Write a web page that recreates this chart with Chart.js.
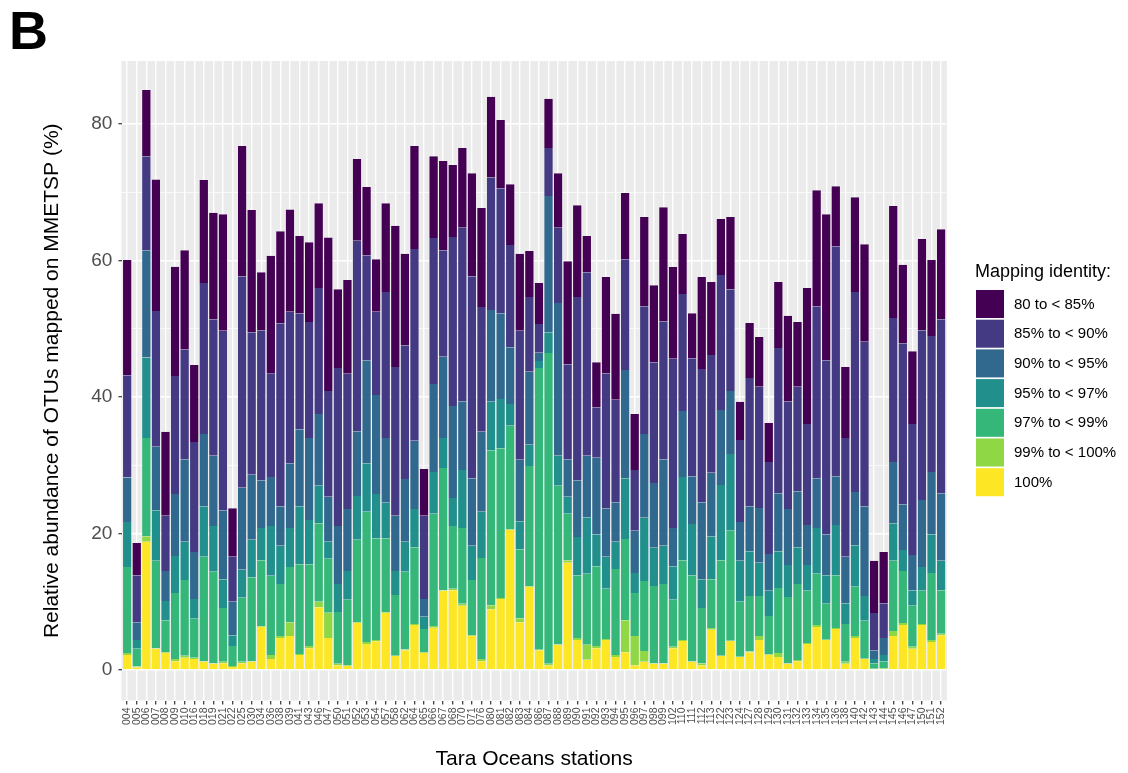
<!DOCTYPE html>
<html>
<head>
<meta charset="utf-8">
<script src="https://cdn.jsdelivr.net/npm/chart.js@4.4.1/dist/chart.umd.min.js"></script>
<style>
  body { margin: 0; background: #ffffff; }
  #wrap { width: 1128px; height: 773px; position: relative; }
</style>
</head>
<body>
<div id="wrap"><canvas id="canvas1"></canvas></div>
<script>
// Tara Oceans stations (x axis)
const stations = ["004","005","006","007","008","009","010","016","018","019",
    "021","022","025","030","034","036","038","039","041","043",
    "046","047","050","051","052","053","054","057","058","062",
    "064","065","066","067","068","070","071","076","080","081",
    "082","083","084","086","087","088","089","090","091","092",
    "093","094","095","096","097","098","099","102","110","111",
    "112","113","122","123","124","127","128","129","130","131",
    "132","133","134","135","136","138","140","142","143","144",
    "145","146","147","150","151","152"]

// relative abundance (%) per mapping identity class
const id100 = [2.2,0.4,18.8,3.1,2.5,1.3,1.8,1.6,1.2,0.9,
    1.0,0.45,1.0,1.2,6.3,1.6,4.7,5.0,2.2,3.2,
    9.2,4.7,0.7,0.6,6.9,3.8,4.2,8.4,2.05,2.9,
    6.6,2.5,6.2,11.6,11.7,9.4,5.0,1.3,8.9,10.4,
    20.5,7.0,12.2,2.9,0.7,3.7,15.7,4.4,1.5,3.2,
    4.4,1.9,2.6,0.7,1.2,0.9,0.9,3.2,4.25,1.2,
    0.7,5.9,2.05,4.25,1.9,2.6,4.4,2.2,1.9,0.9,
    1.3,3.8,6.3,4.4,6.0,0.9,4.7,1.6,0.15,0,
    5.0,6.6,3.1,6.6,4.1,5.1]
const id99 = [0.3,0.1,0.8,0.1,0.1,0.3,0.3,0.2,0.1,0.1,
    0.2,0.15,0.2,0.1,0.1,0.6,0.3,2.0,0.15,0.3,
    0.8,3.7,0.2,0.1,0.1,0.3,0.2,0.1,0.05,0.1,
    0.15,0.1,0.25,0.1,0.2,0.3,0.1,0.3,0.6,0.15,
    0.1,0.6,0.1,0.05,0.2,0.05,0.4,0.3,2.2,0.3,
    0.15,0.3,4.7,4.3,1.6,0.1,0.1,0.2,0.15,0.05,
    0.3,0.25,0.05,0.05,0.05,0.1,0.6,0.1,0.6,0.05,
    0.15,0.15,0.3,0.05,0.15,0.3,0.3,0.05,0.05,0.25,
    0.7,0.3,0.3,0.15,0.3,0.2]
const id97 = [12.6,2.6,14.4,12.8,4.7,9.7,11.1,5.7,15.3,13.4,
    7.9,2.9,9.4,12.3,9.7,11.6,7.6,8.1,13.15,12.0,
    11.5,7.9,7.6,9.6,12.1,19.1,14.9,10.8,8.9,11.4,
    11.25,3.4,16.45,17.9,9.2,11.1,8.1,14.8,22.7,21.95,
    15.2,10.1,17.6,41.3,45.55,23.25,6.8,9.2,10.4,11.7,
    7.35,12.6,11.9,6.3,10.25,11.3,11.6,6.9,11.7,12.65,
    8.1,7.15,14.0,16.1,8.05,8.15,5.85,5.6,9.5,9.75,
    11.15,7.65,7.5,5.25,7.75,5.55,7.2,5.55,0.8,1.05,
    10.3,7.6,6.0,4.85,9.8,6.4]
const id95 = [6.6,1.3,11.8,7.4,2.8,5.4,5.6,2.9,7.4,6.7,
    4.2,1.6,4.1,5.5,4.7,7.3,5.6,5.7,8.5,6.5,
    5.5,2.5,4.1,4.2,6.4,7.1,6.5,5.2,3.5,4.4,
    5.6,1.8,6.1,4.4,4.1,8.5,5.0,6.8,7.1,7.2,
    3.2,4.1,3.1,1.05,3.05,4.4,2.5,5.6,8.3,4.7,
    4.7,4.0,8.9,2.9,9.25,5.6,5.6,4.9,12.2,7.5,
    4.2,6.3,11.0,11.25,6.0,6.55,4.85,3.7,5.4,4.7,
    5.4,3.8,6.7,4.2,7.35,3.05,6.1,3.65,0.6,0.9,
    5.5,3.1,2.3,3.5,5.7,4.3]
const id90 = [6.5,2.6,15.7,9.3,4.4,9.1,12.1,6.9,10.6,10.3,
    10.1,4.9,12.0,9.5,7.0,7.2,5.8,9.5,11.3,12.0,
    10.5,6.6,8.5,9.1,9.5,15.1,14.5,9.5,8.1,9.2,
    10.0,2.6,12.9,11.9,13.5,10.1,9.9,11.7,13.45,12.6,
    8.3,9.0,10.7,1.2,19.95,22.4,5.5,8.3,9.0,11.2,
    7.1,5.8,15.85,6.2,12.3,9.5,12.7,5.6,9.65,7.0,
    11.3,9.3,11.0,9.25,5.7,6.6,8.05,5.4,8.5,8.2,
    8.2,5.85,7.3,6.0,7.15,6.8,7.8,13.15,1.3,2.5,
    9.0,6.7,5.15,9.8,9.1,9.9]
const id85 = [15.0,6.9,13.8,19.9,8.1,17.3,16.1,16.1,22.1,20.0,
    26.3,6.6,31.0,20.9,22.0,15.1,26.8,22.2,17.0,17.0,
    18.5,15.5,23.15,19.8,27.9,15.4,12.2,21.4,21.8,19.6,
    28.1,12.2,21.4,15.6,24.75,25.4,29.6,18.3,19.45,18.3,
    15.0,18.9,10.95,4.2,7.05,11.0,13.9,26.85,26.9,7.4,
    19.8,15.0,16.25,8.9,18.7,17.7,20.2,24.8,17.15,17.3,
    19.5,17.25,19.8,14.9,12.0,18.8,17.75,13.5,21.3,15.8,
    15.3,14.8,25.2,25.5,33.7,17.4,29.3,24.1,5.45,5.1,
    21.1,23.6,19.2,24.9,19.95,25.5]
const id80 = [16.9,4.7,9.7,19.3,12.3,16.0,14.5,11.3,15.1,15.6,
    17.1,7.1,19.1,17.9,8.5,17.3,13.5,15.0,11.3,11.7,
    12.4,22.5,11.55,13.75,12.0,10.0,7.7,13.0,20.7,13.4,
    15.1,6.85,12.0,13.1,10.55,11.7,15.1,14.5,11.8,10.0,
    8.9,11.3,6.75,6.0,7.2,8.0,15.1,13.45,5.3,6.6,
    14.1,12.6,9.7,8.2,13.1,11.3,16.7,13.45,8.8,6.6,
    13.5,10.7,8.2,10.6,5.6,8.05,7.3,5.7,9.65,12.5,
    9.5,19.95,17.0,21.4,8.8,10.4,13.9,14.3,7.65,7.5,
    16.4,11.5,10.65,13.35,11.15,13.2]

// stacking order bottom -> top
const seriesData = [id100, id99, id97, id95, id90, id85, id80]
const seriesNames = ["100%", "99% to < 100%", "97% to < 99%", "95% to < 97%",
    "90% to < 95%", "85% to < 90%", "80 to < 85%"]
const seriesColors = ["#FDE725", "#8FD744", "#35B779", "#21908C",
    "#31688E", "#443A83", "#440154"]

const yMajor = [0, 20, 40, 60, 80]
const yMinor = [10, 30, 50, 70]

Chart.defaults.font.family = "'Liberation Sans', Arial, Helvetica, sans-serif"

// grey ggplot panel behind the bars
const panelBackground = {
    id: "panelBackground",
    beforeDraw: (chart) => {
        const a = chart.chartArea
        const band = (a.right - a.left) / stations.length
        const c = chart.ctx
        c.save()
        c.fillStyle = "#EBEBEB"
        c.fillRect(a.left - 0.1 * band, a.top, a.right - a.left + 0.2 * band, a.bottom - a.top)
        c.restore()
    }
}

// panel tag and the legend box on the right
const extras = {
    id: "extras",
    afterDraw: (chart) => {
        const c = chart.ctx
        c.save()
        c.fillStyle = "#000"
        c.font = "bold 54px 'Liberation Sans', Arial, sans-serif"
        c.textBaseline = "alphabetic"
        c.fillText("B", 9, 49)

        c.font = "18px 'Liberation Sans', Arial, sans-serif"
        c.fillStyle = "#000"
        c.fillText("Mapping identity:", 975, 277)

        const sets = chart.data.datasets.slice().reverse()
        c.font = "15px 'Liberation Sans', Arial, sans-serif"
        c.textBaseline = "middle"
        sets.forEach((ds, k) => {
            const top = 290 + k * 29.7
            c.fillStyle = ds.backgroundColor
            c.fillRect(976, top, 28, 28)
            c.fillStyle = "#000"
            c.fillText(ds.label, 1014, top + 14.5)
        })
        c.restore()
    }
}

const ctx = document.querySelector("#canvas1")
const myBarChart = new Chart(ctx, {
    type: "bar",
    data: {
        labels: stations,
        datasets: seriesData.map((vals, i) => ({
            label: seriesNames[i],
            data: vals,
            backgroundColor: seriesColors[i],
            // thin white seams between neighbouring bars
            borderColor: "#FFFFFF",
            borderWidth: { left: 0.5, right: 0.5, top: 0, bottom: 0 },
            borderSkipped: false,
            barPercentage: 0.97,
            categoryPercentage: 1.0
        }))
    },
    options: {
        responsive: true,
        maintainAspectRatio: false,
        animation: false,
        layout: {
            padding: { left: 0, top: 61, right: 182.1, bottom: 0 }
        },
        plugins: {
            legend: { display: false },
            tooltip: { enabled: false }
        },
        scales: {
            x: {
                stacked: true,
                border: { display: false },
                grid: {
                    color: "#FFFFFF",
                    lineWidth: 1.4,
                    offset: false,
                    tickLength: 4,
                    tickColor: "#333333",
                    tickWidth: 1.2
                },
                ticks: {
                    autoSkip: false,
                    maxRotation: 90,
                    minRotation: 90,
                    padding: 3,
                    color: "#4D4D4D",
                    font: { size: 10.5 }
                },
                title: {
                    display: true,
                    text: "Tara Oceans stations",
                    color: "#000",
                    font: { size: 21 },
                    padding: { top: 0, bottom: 1 }
                },
                afterFit: (scale) => { scale.height = 72.5 }
            },
            y: {
                stacked: true,
                min: -4.47,
                max: 89.25,
                border: { display: false },
                afterBuildTicks: (scale) => {
                    scale.ticks = yMajor.concat(yMinor).sort((a, b) => a - b).map(v => ({ value: v }))
                },
                grid: {
                    color: "#FFFFFF",
                    lineWidth: (c) => yMajor.includes(c.tick.value) ? 1.4 : 0.7,
                    tickLength: 4,
                    tickColor: (c) => yMajor.includes(c.tick.value) ? "#333333" : "rgba(0,0,0,0)",
                    tickWidth: 1.2
                },
                ticks: {
                    padding: 6,
                    color: "#4D4D4D",
                    font: { size: 19 },
                    callback: (value) => yMajor.includes(value) ? value : ""
                },
                title: {
                    display: true,
                    text: "Relative abundance of OTUs mapped on MMETSP (%)",
                    color: "#000",
                    font: { size: 21 },
                    padding: { top: 40, bottom: 0 }
                },
                afterFit: (scale) => { scale.width = 122.4 }
            }
        }
    },
    plugins: [panelBackground, extras]
});
</script>
</body>
</html>
